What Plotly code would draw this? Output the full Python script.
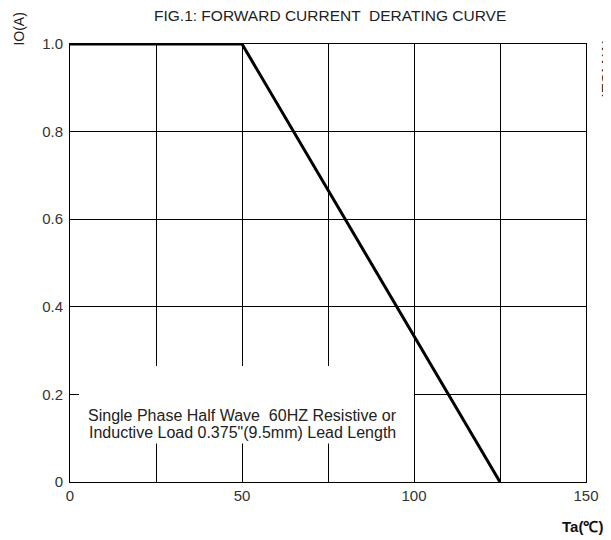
import plotly.graph_objects as go

# Data
temps = [0, 50, 125]
current = [1.0, 1.0, 0.0]
x_ticks = [0, 25, 50, 75, 100, 125, 150]
x_tick_text = ["0", "", "50", "", "100", "", "150"]
y_ticks = [0, 0.2, 0.4, 0.6, 0.8, 1.0]
y_tick_text = ["0", "0.2", "0.4", "0.6", "0.8", "1.0"]
title_text = "FIG.1: FORWARD CURRENT  DERATING CURVE"
note_line1 = "Single Phase Half Wave  60HZ Resistive or"
note_line2 = "Inductive Load 0.375\"(9.5mm) Lead Length"

OFF = 8  # page body margin
W, H = 611 - OFF, 540 - OFF
L, T = 70 - OFF, 44 - OFF
PW, PH = 522, 438
R = W - L - PW
B = H - T - PH
FONT = "Liberation Sans, Arial, sans-serif"


def paper(sx, sy):
    fx, fy = sx - OFF, sy - OFF
    return (fx - L) / PW, 1 - (fy - T) / PH


fig = go.Figure()
fig.add_trace(go.Scatter(x=temps, y=current, mode="lines",
                         line=dict(color="black", width=3), showlegend=False,
                         hoverinfo="skip"))

fig.add_shape(type="rect", xref="x", yref="y", x0=0, x1=100, y0=0.088, y1=0.265,
              fillcolor="white", line=dict(width=0), layer="between")

for txt, sy in [(note_line1, 415), (note_line2, 432)]:
    px, py = paper(245, sy)
    fig.add_annotation(x=px, y=py, xref="paper", yref="paper", text=txt,
                       showarrow=False, font=dict(family=FONT, size=16, color="#222"),
                       xanchor="center", yanchor="middle")

px, py = paper(333, 16)
fig.add_annotation(x=px, y=py, xref="paper", yref="paper",
                   text=title_text, showarrow=False,
                   font=dict(family=FONT, size=15.5, color="#222"),
                   xanchor="center", yanchor="middle")

px, py = paper(18, 29)
fig.add_annotation(x=px, y=py, xref="paper", yref="paper",
                   text="IO(A)", textangle=-90, showarrow=False,
                   font=dict(family=FONT, size=14, color="#222"),
                   xanchor="center", yanchor="middle")

px, py = paper(614, 68)
fig.add_annotation(x=px, y=py, xref="paper", yref="paper",
                   text="IFSM(A)", textangle=-90, showarrow=False,
                   font=dict(family=FONT, size=16, color="#222"),
                   xanchor="center", yanchor="middle")

px, py = paper(588, 526)
fig.add_annotation(x=px, y=py, xref="paper", yref="paper",
                   text="<b>Ta(℃)</b>", showarrow=False,
                   font=dict(family=FONT, size=15, color="#111"),
                   xanchor="center", yanchor="middle")

fig.update_xaxes(range=[0, 150], tickvals=x_ticks, ticktext=x_tick_text,
                 showgrid=True, gridcolor="black", gridwidth=1,
                 showline=True, linecolor="black", linewidth=1, mirror=True,
                 ticks="", zeroline=False,
                 tickfont=dict(family=FONT, size=15, color="#333"))
fig.update_yaxes(range=[0, 1], tickvals=y_ticks, ticktext=y_tick_text,
                 showgrid=True, gridcolor="black", gridwidth=1,
                 showline=True, linecolor="black", linewidth=1, mirror=True,
                 ticks="inside", ticklen=9, tickcolor="black", zeroline=False,
                 ticklabelstandoff=3,
                 tickfont=dict(family=FONT, size=15, color="#333"))

fig.update_layout(width=W, height=H, margin=dict(l=L, r=R, t=T, b=B),
                  plot_bgcolor="white", paper_bgcolor="white")

fig.write_html("out.html")
